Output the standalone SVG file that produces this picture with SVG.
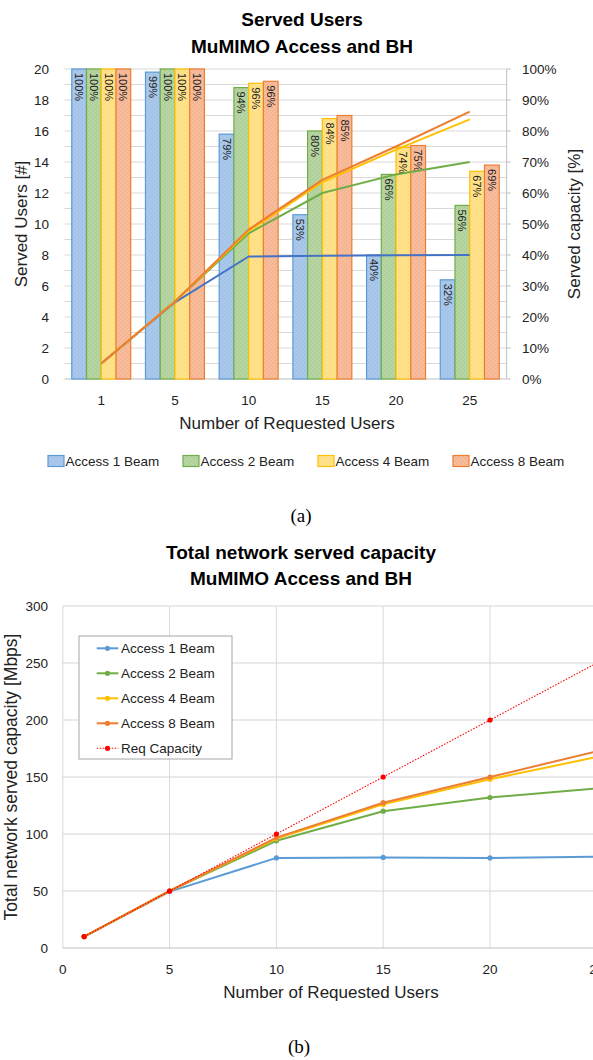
<svg xmlns="http://www.w3.org/2000/svg" width="593" height="1060" viewBox="0 0 593 1060">
<defs>
<style>
text{font-family:"Liberation Sans",Arial,sans-serif;fill:#000}
.ttl{font-size:19px;font-weight:bold;text-anchor:middle}
.tk{font-size:13.5px;fill:#222}
.tkr{font-size:13.5px;fill:#222;text-anchor:end}
.tkm{font-size:13.5px;fill:#222;text-anchor:middle}
.ax{font-size:17px;fill:#222;text-anchor:middle}
.lg{font-size:13.5px;fill:#222}
.bl{font-size:11px;fill:#222}
.cap{font-family:"Liberation Serif","Times New Roman",serif;font-size:19px;text-anchor:middle}
.g1{stroke:#d9d9d9;stroke-width:1;fill:none}
.g2{stroke:#e3e3e3;stroke-width:1.6;fill:none}
.axl{stroke:#bfbfbf;stroke-width:1;fill:none}
.b1{fill:url(#pb);stroke:#5b9bd5;stroke-width:1.2}
.b2{fill:url(#pg);stroke:#70ad47;stroke-width:1.2}
.b4{fill:url(#py);stroke:#ffc000;stroke-width:1.2}
.b8{fill:url(#po);stroke:#ed7d31;stroke-width:1.2}
.ln{fill:none;stroke-width:2;stroke-linejoin:round}
</style>
<pattern id="pb" width="4" height="4" patternUnits="userSpaceOnUse"><rect width="4" height="4" fill="#aac8ea"/><path d="M0 4L4 0" stroke="#9cbde4" stroke-width="0.8"/></pattern>
<pattern id="pg" width="4" height="4" patternUnits="userSpaceOnUse"><rect width="4" height="4" fill="#b7d5a2"/><path d="M0 4L4 0" stroke="#a8cb90" stroke-width="0.8"/></pattern>
<pattern id="py" width="4" height="4" patternUnits="userSpaceOnUse"><rect width="4" height="4" fill="#ffe28f"/><path d="M0 4L4 0" stroke="#ffd96a" stroke-width="0.8"/></pattern>
<pattern id="po" width="4" height="4" patternUnits="userSpaceOnUse"><rect width="4" height="4" fill="#f6bc9c"/><path d="M0 4L4 0" stroke="#f2ab85" stroke-width="0.8"/></pattern>
</defs>
<rect width="593" height="1060" fill="#fff"/>

<!-- ===== Chart (a) ===== -->
<g id="chartA-title">
<text class="ttl" x="302" y="26">Served Users</text>
<text class="ttl" x="302" y="52.5">MuMIMO Access and BH</text>
</g>
<g id="chartA-grid">
<path class="g1" d="M64.4 69H506.7M64.4 84.5H506.7M64.4 100H506.7M64.4 115.5H506.7M64.4 131H506.7M64.4 146.5H506.7M64.4 162H506.7M64.4 177.5H506.7M64.4 193H506.7M64.4 208.5H506.7M64.4 224H506.7M64.4 239.5H506.7M64.4 255H506.7M64.4 270.5H506.7M64.4 286H506.7M64.4 301.5H506.7M64.4 317H506.7M64.4 332.5H506.7M64.4 348H506.7M64.4 363.5H506.7"/>
<path class="axl" d="M64.4 379H506.7M506.7 69V379M506.7 69H510.7M506.7 100H510.7M506.7 131H510.7M506.7 162H510.7M506.7 193H510.7M506.7 224H510.7M506.7 255H510.7M506.7 286H510.7M506.7 317H510.7M506.7 348H510.7M506.7 379H510.7"/>
</g>
<g id="chartA-yaxis-left">
<text class="tkr" x="49" y="383.5">0</text>
<text class="tkr" x="49" y="352.5">2</text>
<text class="tkr" x="49" y="321.5">4</text>
<text class="tkr" x="49" y="290.5">6</text>
<text class="tkr" x="49" y="259.5">8</text>
<text class="tkr" x="49" y="228.5">10</text>
<text class="tkr" x="49" y="197.5">12</text>
<text class="tkr" x="49" y="166.5">14</text>
<text class="tkr" x="49" y="135.5">16</text>
<text class="tkr" x="49" y="104.5">18</text>
<text class="tkr" x="49" y="73.5">20</text>
<text class="ax" transform="translate(26.5,224) rotate(-90)">Served Users [#]</text>
</g>
<g id="chartA-yaxis-right">
<text class="tk" x="522" y="383.5">0%</text>
<text class="tk" x="522" y="352.5">10%</text>
<text class="tk" x="522" y="321.5">20%</text>
<text class="tk" x="522" y="290.5">30%</text>
<text class="tk" x="522" y="259.5">40%</text>
<text class="tk" x="522" y="228.5">50%</text>
<text class="tk" x="522" y="197.5">60%</text>
<text class="tk" x="522" y="166.5">70%</text>
<text class="tk" x="522" y="135.5">80%</text>
<text class="tk" x="522" y="104.5">90%</text>
<text class="tk" x="522" y="73.5">100%</text>
<text class="ax" transform="translate(580,224) rotate(-90)">Served capacity [%]</text>
</g>
<g id="chartA-xaxis">
<text class="tkm" x="101.25" y="405">1</text>
<text class="tkm" x="174.95" y="405">5</text>
<text class="tkm" x="248.65" y="405">10</text>
<text class="tkm" x="322.35" y="405">15</text>
<text class="tkm" x="396.05" y="405">20</text>
<text class="tkm" x="469.75" y="405">25</text>
<text class="ax" x="287" y="429">Number of Requested Users</text>
</g>
<g id="chartA-bars">
<rect class="b1" x="71.77" y="69" width="14.74" height="310"/>
<rect class="b2" x="86.51" y="69" width="14.74" height="310"/>
<rect class="b4" x="101.25" y="69" width="14.74" height="310"/>
<rect class="b8" x="115.99" y="69" width="14.74" height="310"/>
<rect class="b1" x="145.47" y="72.1" width="14.74" height="306.9"/>
<rect class="b2" x="160.21" y="69" width="14.74" height="310"/>
<rect class="b4" x="174.95" y="69" width="14.74" height="310"/>
<rect class="b8" x="189.69" y="69" width="14.74" height="310"/>
<rect class="b1" x="219.17" y="134.1" width="14.74" height="244.9"/>
<rect class="b2" x="233.91" y="87.6" width="14.74" height="291.4"/>
<rect class="b4" x="248.65" y="83.3" width="14.74" height="295.7"/>
<rect class="b8" x="263.39" y="81.3" width="14.74" height="297.7"/>
<rect class="b1" x="292.87" y="214.7" width="14.74" height="164.3"/>
<rect class="b2" x="307.61" y="131" width="14.74" height="248"/>
<rect class="b4" x="322.35" y="118.6" width="14.74" height="260.4"/>
<rect class="b8" x="337.09" y="115.5" width="14.74" height="263.5"/>
<rect class="b1" x="366.57" y="255" width="14.74" height="124"/>
<rect class="b2" x="381.31" y="174.4" width="14.74" height="204.6"/>
<rect class="b4" x="396.05" y="147.5" width="14.74" height="231.5"/>
<rect class="b8" x="410.79" y="145.5" width="14.74" height="233.5"/>
<rect class="b1" x="440.27" y="279.8" width="14.74" height="99.2"/>
<rect class="b2" x="455.01" y="205.4" width="14.74" height="173.6"/>
<rect class="b4" x="469.75" y="171.3" width="14.74" height="207.7"/>
<rect class="b8" x="484.49" y="165.1" width="14.74" height="213.9"/>
</g>
<g id="chartA-bar-labels">
<text class="bl" transform="translate(75.1,73) rotate(90)">100%</text>
<text class="bl" transform="translate(89.9,73) rotate(90)">100%</text>
<text class="bl" transform="translate(104.6,73) rotate(90)">100%</text>
<text class="bl" transform="translate(119.4,73) rotate(90)">100%</text>
<text class="bl" transform="translate(148.8,76.1) rotate(90)">99%</text>
<text class="bl" transform="translate(163.6,73) rotate(90)">100%</text>
<text class="bl" transform="translate(178.3,73) rotate(90)">100%</text>
<text class="bl" transform="translate(193.1,73) rotate(90)">100%</text>
<text class="bl" transform="translate(222.5,138.1) rotate(90)">79%</text>
<text class="bl" transform="translate(237.3,91.6) rotate(90)">94%</text>
<text class="bl" transform="translate(252,87.3) rotate(90)">96%</text>
<text class="bl" transform="translate(266.8,85.3) rotate(90)">96%</text>
<text class="bl" transform="translate(296.2,218.7) rotate(90)">53%</text>
<text class="bl" transform="translate(311,135) rotate(90)">80%</text>
<text class="bl" transform="translate(325.7,122.6) rotate(90)">84%</text>
<text class="bl" transform="translate(340.5,119.5) rotate(90)">85%</text>
<text class="bl" transform="translate(369.9,259) rotate(90)">40%</text>
<text class="bl" transform="translate(384.7,178.4) rotate(90)">66%</text>
<text class="bl" transform="translate(399.4,151.5) rotate(90)">74%</text>
<text class="bl" transform="translate(414.2,149.5) rotate(90)">75%</text>
<text class="bl" transform="translate(443.6,283.8) rotate(90)">32%</text>
<text class="bl" transform="translate(458.4,209.4) rotate(90)">56%</text>
<text class="bl" transform="translate(473.1,175.3) rotate(90)">67%</text>
<text class="bl" transform="translate(487.9,169.1) rotate(90)">69%</text>
</g>
<g id="chartA-lines">
<polyline class="ln" stroke="#4472c4" points="101.25,363.5 174.95,302.3 248.65,256.5 322.35,255.8 396.05,255.3 469.75,255"/>
<polyline class="ln" stroke="#70ad47" points="101.25,363.5 174.95,301.5 248.65,233.3 322.35,193 396.05,174.4 469.75,162"/>
<polyline class="ln" stroke="#ffc000" points="101.25,363.5 174.95,301.5 248.65,231 322.35,182.2 396.05,149.6 469.75,119.4"/>
<polyline class="ln" stroke="#ed7d31" points="101.25,363.5 174.95,301.5 248.65,229.6 322.35,179.8 396.05,146.5 469.75,111.6"/>
</g>
<g id="chartA-legend">
<rect class="b1" x="48" y="455.5" width="16" height="11"/>
<text class="lg" x="65.5" y="466">Access 1 Beam</text>
<rect class="b2" x="183" y="455.5" width="16" height="11"/>
<text class="lg" x="200.5" y="466">Access 2 Beam</text>
<rect class="b4" x="318" y="455.5" width="16" height="11"/>
<text class="lg" x="335.5" y="466">Access 4 Beam</text>
<rect class="b8" x="453" y="455.5" width="16" height="11"/>
<text class="lg" x="470.5" y="466">Access 8 Beam</text>
</g>
<text id="caption-a" class="cap" x="301" y="522">(a)</text>

<!-- ===== Chart (b) ===== -->
<g id="chartB-title">
<text class="ttl" x="301" y="558.5">Total network served capacity</text>
<text class="ttl" x="301" y="585">MuMIMO Access and BH</text>
</g>
<g id="chartB-grid">
<path class="g2" d="M62.8 606H593M62.8 663H593M62.8 720H593M62.8 777H593M62.8 834H593M62.8 891H593"/>
<path class="g1" d="M62.8 606V948M169.6 606V948M276.4 606V948M383.2 606V948M490 606V948"/>
<path class="axl" d="M62.8 948H593"/>
</g>
<g id="chartB-yaxis">
<text class="tkr" x="48" y="952.5">0</text>
<text class="tkr" x="48" y="895.5">50</text>
<text class="tkr" x="48" y="838.5">100</text>
<text class="tkr" x="48" y="781.5">150</text>
<text class="tkr" x="48" y="724.5">200</text>
<text class="tkr" x="48" y="667.5">250</text>
<text class="tkr" x="48" y="610.5">300</text>
<text class="ax" style="font-size:17.5px" transform="translate(17,777) rotate(-90)">Total network served capacity [Mbps]</text>
</g>
<g id="chartB-xaxis">
<text class="tkm" x="62.8" y="974">0</text>
<text class="tkm" x="169.6" y="974">5</text>
<text class="tkm" x="276.4" y="974">10</text>
<text class="tkm" x="383.2" y="974">15</text>
<text class="tkm" x="490" y="974">20</text>
<text class="tkm" x="596.8" y="974">25</text>
<text class="ax" x="331" y="998">Number of Requested Users</text>
</g>
<g id="chartB-series">
<g fill="#5b9bd5">
<polyline class="ln" stroke="#5b9bd5" points="84.16,936.6 169.6,891.6 276.4,857.9 383.2,857.4 490,857.9 596.8,856.8"/>
<circle cx="84.16" cy="936.6" r="2.6"/><circle cx="169.6" cy="891.6" r="2.6"/><circle cx="276.4" cy="857.9" r="2.6"/><circle cx="383.2" cy="857.4" r="2.6"/><circle cx="490" cy="857.9" r="2.6"/>
</g>
<g fill="#70ad47">
<polyline class="ln" stroke="#70ad47" points="84.16,936.6 169.6,891 276.4,840.8 383.2,811.2 490,797.5 596.8,788.4"/>
<circle cx="84.16" cy="936.6" r="2.6"/><circle cx="169.6" cy="891" r="2.6"/><circle cx="276.4" cy="840.8" r="2.6"/><circle cx="383.2" cy="811.2" r="2.6"/><circle cx="490" cy="797.5" r="2.6"/>
</g>
<g fill="#ffc000">
<polyline class="ln" stroke="#ffc000" points="84.16,936.6 169.6,891 276.4,838.6 383.2,804.4 490,779.3 596.8,757"/>
<circle cx="84.16" cy="936.6" r="2.6"/><circle cx="169.6" cy="891" r="2.6"/><circle cx="276.4" cy="838.6" r="2.6"/><circle cx="383.2" cy="804.4" r="2.6"/><circle cx="490" cy="779.3" r="2.6"/>
</g>
<g fill="#ed7d31">
<polyline class="ln" stroke="#ed7d31" points="84.16,936.6 169.6,891 276.4,837.6 383.2,802.7 490,777 596.8,751.3"/>
<circle cx="84.16" cy="936.6" r="2.6"/><circle cx="169.6" cy="891" r="2.6"/><circle cx="276.4" cy="837.6" r="2.6"/><circle cx="383.2" cy="802.7" r="2.6"/><circle cx="490" cy="777" r="2.6"/>
</g>
<g fill="#ff0000">
<polyline fill="none" stroke="#ff0000" stroke-width="1.1" stroke-dasharray="1.5 1.5" points="84.16,936.6 169.6,891 276.4,834 383.2,777 490,720 596.8,663"/>
<circle cx="84.16" cy="936.6" r="2.6"/><circle cx="169.6" cy="891" r="2.6"/><circle cx="276.4" cy="834" r="2.6"/><circle cx="383.2" cy="777" r="2.6"/><circle cx="490" cy="720" r="2.6"/>
</g>
</g>
<g id="chartB-legend">
<rect x="79" y="636" width="153" height="123" fill="#fff" stroke="#a6a6a6" stroke-width="1"/>
<path d="M96.7 648.3H118.3" stroke="#5b9bd5" stroke-width="2"/><circle cx="107.5" cy="648.3" r="2.6" fill="#5b9bd5"/>
<text class="lg" x="121" y="653.3">Access 1 Beam</text>
<path d="M96.7 673.3H118.3" stroke="#70ad47" stroke-width="2"/><circle cx="107.5" cy="673.3" r="2.6" fill="#70ad47"/>
<text class="lg" x="121" y="678.3">Access 2 Beam</text>
<path d="M96.7 698.3H118.3" stroke="#ffc000" stroke-width="2"/><circle cx="107.5" cy="698.3" r="2.6" fill="#ffc000"/>
<text class="lg" x="121" y="703.3">Access 4 Beam</text>
<path d="M96.7 723.3H118.3" stroke="#ed7d31" stroke-width="2"/><circle cx="107.5" cy="723.3" r="2.6" fill="#ed7d31"/>
<text class="lg" x="121" y="728.3">Access 8 Beam</text>
<path d="M96.7 748.3H118.3" stroke="#ff0000" stroke-width="1.1" stroke-dasharray="1.5 1.5"/><circle cx="107.5" cy="748.3" r="2.6" fill="#ff0000"/>
<text class="lg" x="121" y="753.3">Req Capacity</text>
</g>
<text id="caption-b" class="cap" x="299" y="1053">(b)</text>
</svg>
